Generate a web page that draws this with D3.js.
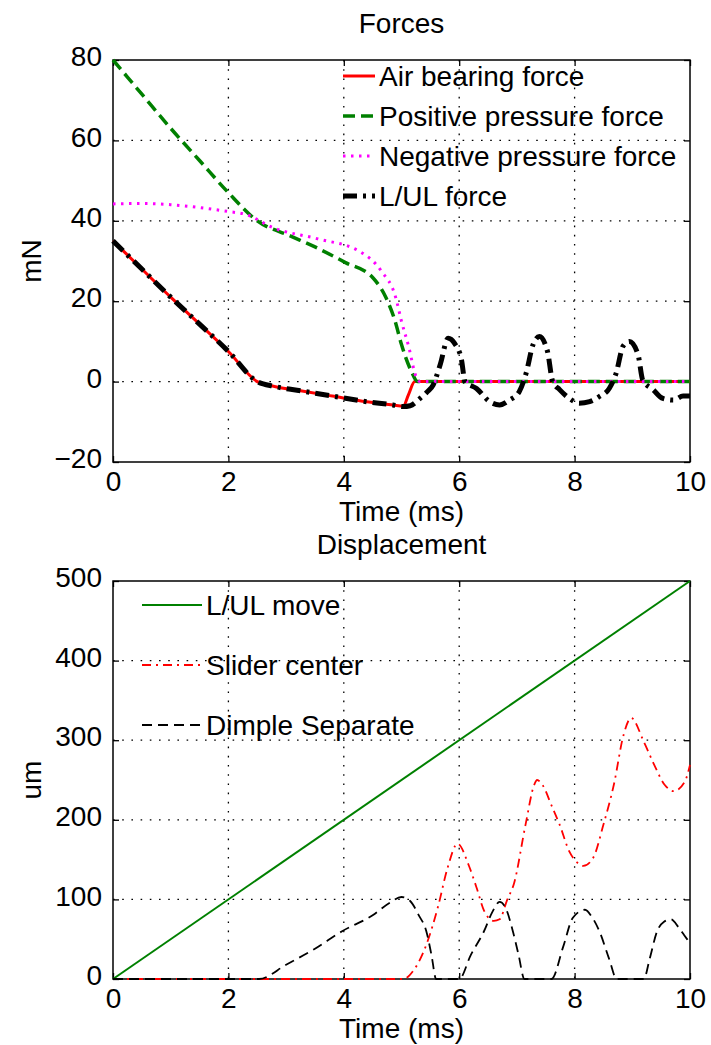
<!DOCTYPE html>
<html>
<head>
<meta charset="utf-8">
<script src="https://cdn.jsdelivr.net/npm/d3@7"></script>
<style>
  body { margin: 0; background: #fff; }
  svg text { font-family: "Liberation Sans", Arial, sans-serif; font-size: 28px; fill: #000; }
</style>
</head>
<body>
<svg id="chart" width="711" height="1045"></svg>
<script>
const time_ticks = [0, 2, 4, 6, 8, 10]
const force_ticks = [-20, 0, 20, 40, 60, 80]
const disp_ticks = [0, 100, 200, 300, 400, 500]

// Forces (mN) vs time (ms)
const air_t = [0, 0.5, 1, 1.5, 2, 2.5, 2.8, 3.25, 3.8, 4.4, 4.85, 5.03, 5.12, 5.23, 7, 10]
const air_f = [35, 28, 21, 14.3, 7.5, 0, -1.2, -2.3, -3.6, -5, -5.8, -6.1, -3.3, 0, 0, 0]

const pos_t = [0, 0.5, 1, 1.5, 2, 2.5, 3.08, 3.5, 4.03, 4.5, 4.73, 4.89, 5.0, 5.17, 5.28, 7, 10]
const pos_f = [80, 71.5, 63, 55, 47, 40, 36.2, 33.5, 29.6, 25.9, 20.9, 15, 9.2, 2.6, 0, 0, 0]

const neg_t = [0, 0.5, 1, 1.5, 2, 2.3, 2.77, 3.55, 4.26, 4.65, 4.9, 5.0, 5.13, 5.24, 5.32, 7, 10]
const neg_f = [44.2, 44.3, 44, 43.3, 42.3, 41.6, 38.3, 35.5, 32.5, 27.5, 20.9, 15, 8.4, 1.7, 0, 0, 0]

const lul_t = [0, 0.5, 1, 1.5, 2, 2.5, 2.8, 3.25, 3.8, 4.4, 4.85, 5.03, 5.15, 5.32, 5.45, 5.55, 5.67, 5.81, 5.92, 6.04, 6.1,
    6.3, 6.53, 6.7, 6.87, 7.04, 7.16, 7.28, 7.39, 7.53, 7.62, 7.74, 7.91, 8.08, 8.26, 8.43, 8.6, 8.72, 8.84, 8.95,
    9.1, 9.18, 9.36, 9.53, 9.71, 9.88, 10]
const lul_f = [35, 28, 21, 14.3, 7.5, 0, -1.2, -2.3, -3.6, -5, -5.8, -6.2, -6, -4.2, -2.5, -0.8, 4.2, 10.8, 9.5, 5.4, 0,
    -1.7, -5, -5.8, -4.6, -2.5, 2.1, 9.2, 11.2, 7.5, 0, -2, -4.2, -5.4, -5, -3.7, -1.7, 2.1, 8.8, 10,
    6.7, 0.4, -2, -4.2, -4.6, -3.6, -3.6]

// Displacement (um) vs time (ms)
const move_t = [0, 10]
const move_u = [0, 500]

const slider_t = [0, 5.03, 5.2, 5.43, 5.63, 5.8, 5.97, 6.17, 6.3, 6.43, 6.6, 6.7, 6.83, 6.95, 7.15, 7.3, 7.35, 7.45, 7.6,
    7.74, 7.91, 8.05, 8.15, 8.32, 8.5, 8.68, 8.85, 8.98, 9.2, 9.38, 9.56, 9.72, 9.91, 10]
const slider_u = [0, 0, 10, 43, 90, 140, 170, 142, 115, 86, 73, 75, 99, 120, 194, 244, 250, 243, 218,
    194, 160, 146, 142, 152, 194, 244, 307, 328, 298, 269, 244, 236, 248, 269]

const dimple_t = [0, 2.53, 3, 3.5, 3.97, 4.5, 4.8, 5.0, 5.15, 5.3, 5.43, 5.52, 5.6, 6.0, 6.2, 6.43, 6.58, 6.7, 6.8, 6.93,
    7.03, 7.13, 7.6, 7.8, 7.97, 8.18, 8.3, 8.43, 8.6, 8.73, 9.2, 9.3, 9.43, 9.55, 9.67, 9.8, 9.9, 10]
const dimple_u = [0, 0, 18, 38, 60, 80, 96, 103, 98, 80, 60, 30, 0, 0, 30, 60, 85, 97, 90, 60,
    30, 0, 0, 40, 77, 87, 78, 60, 25, 0, 0, 25, 60, 72, 75, 65, 55, 45]

const force_labels = ['Air bearing force', 'Positive pressure force', 'Negative pressure force', 'L/UL force']
const disp_labels = ['L/UL move', 'Slider center', 'Dimple Separate']

const svg = d3.select('#chart')
const left = 113, right = 690

const make_axes = (top, bottom, y_dom, y_ticks, title, ylabel) => {
    const x = d3.scaleLinear().domain([0, 10]).range([left, right])
    const y = d3.scaleLinear().domain(y_dom).range([bottom, top])
    const g = svg.append('g')

    // dotted grid
    g.selectAll('line.gx').data(time_ticks.slice(1, -1)).enter().append('line')
        .attr('x1', d => x(d)).attr('x2', d => x(d)).attr('y1', top).attr('y2', bottom)
    g.selectAll('line.gy').data(y_ticks.slice(1, -1)).enter().append('line')
        .attr('y1', d => y(d)).attr('y2', d => y(d)).attr('x1', left).attr('x2', right)
    g.selectAll('line').attr('stroke', '#000').attr('stroke-width', 1.3).attr('stroke-dasharray', '1.6,7.6')

    // ticks inward on all four sides
    const ax_b = g.append('g').attr('transform', 'translate(0,' + bottom + ')')
        .call(d3.axisBottom(x).tickValues(time_ticks).tickSize(-6).tickPadding(9))
    const ax_t = g.append('g').attr('transform', 'translate(0,' + top + ')')
        .call(d3.axisTop(x).tickValues(time_ticks).tickSize(-6).tickFormat(''))
    const ax_l = g.append('g').attr('transform', 'translate(' + left + ',0)')
        .call(d3.axisLeft(y).tickValues(y_ticks).tickSize(-6).tickPadding(11))
    const ax_r = g.append('g').attr('transform', 'translate(' + right + ',0)')
        .call(d3.axisRight(y).tickValues(y_ticks).tickSize(-6).tickFormat(''))
    ;[ax_b, ax_t, ax_l, ax_r].forEach(a => {
        a.select('.domain').remove()
        a.selectAll('line').attr('stroke', '#000').attr('stroke-width', 1.3)
        a.selectAll('text').attr('font-family', null).attr('font-size', null)
    })
    ax_l.selectAll('text').attr('dy', '0.2em')

    g.append('rect').attr('x', left).attr('y', top).attr('width', right - left).attr('height', bottom - top)
        .attr('fill', 'none').attr('stroke', '#000').attr('stroke-width', 1.5)

    g.append('text').attr('x', (left + right) / 2).attr('y', top - 27).attr('text-anchor', 'middle').text(title)
    g.append('text').attr('x', (left + right) / 2).attr('y', bottom + 59).attr('text-anchor', 'middle').text('Time (ms)')
    g.append('text').attr('transform', 'translate(41,' + (top + bottom) / 2 + ') rotate(-90)')
        .attr('text-anchor', 'middle').text(ylabel)

    return {x, y, g}
}

const draw_lines = (ax, series) => {
    const line = d3.line().x(d => ax.x(d[0])).y(d => ax.y(d[1])).curve(d3.curveMonotoneX)
    series.forEach(s => {
        ax.g.append('path').datum(d3.zip(s.t, s.v)).attr('d', line)
            .attr('fill', 'none').attr('stroke', s.color).attr('stroke-width', s.width)
            .attr('stroke-dasharray', s.dash).attr('stroke-linejoin', 'round')
    })
}

const draw_legend = (ax, series, labels, x0, x1, y0, step) => {
    series.forEach((s, i) => {
        const yy = y0 + i * step
        ax.g.append('line').attr('x1', x0).attr('x2', x1).attr('y1', yy).attr('y2', yy)
            .attr('stroke', s.color).attr('stroke-width', s.width).attr('stroke-dasharray', s.dash)
        ax.g.append('text').attr('x', x1 + 4).attr('y', yy).attr('dy', '0.36em').text(labels[i])
    })
}

// top: forces
const ax1 = make_axes(60, 462, [-20, 80], force_ticks, 'Forces', 'mN')
const force_series = [
    {t: air_t, v: air_f, color: '#ff0000', width: 3, dash: null},
    {t: pos_t, v: pos_f, color: '#008000', width: 3.5, dash: '12,6'},
    {t: neg_t, v: neg_f, color: '#ff00ff', width: 3, dash: '2.5,5.5'},
    {t: lul_t, v: lul_f, color: '#000000', width: 5, dash: '14,6,3,6'}
]
draw_lines(ax1, force_series)
draw_legend(ax1, force_series, force_labels, 343, 375, 76, 40)

// bottom: displacement
const ax2 = make_axes(581, 979, [0, 500], disp_ticks, 'Displacement', 'um')
const disp_series = [
    {t: move_t, v: move_u, color: '#008000', width: 2, dash: null},
    {t: slider_t, v: slider_u, color: '#ff0000', width: 1.8, dash: '9,5,2,5'},
    {t: dimple_t, v: dimple_u, color: '#000000', width: 1.8, dash: '10,6'}
]
draw_lines(ax2, disp_series)
draw_legend(ax2, disp_series, disp_labels, 142, 202, 605, 60)
</script>
</body>
</html>
